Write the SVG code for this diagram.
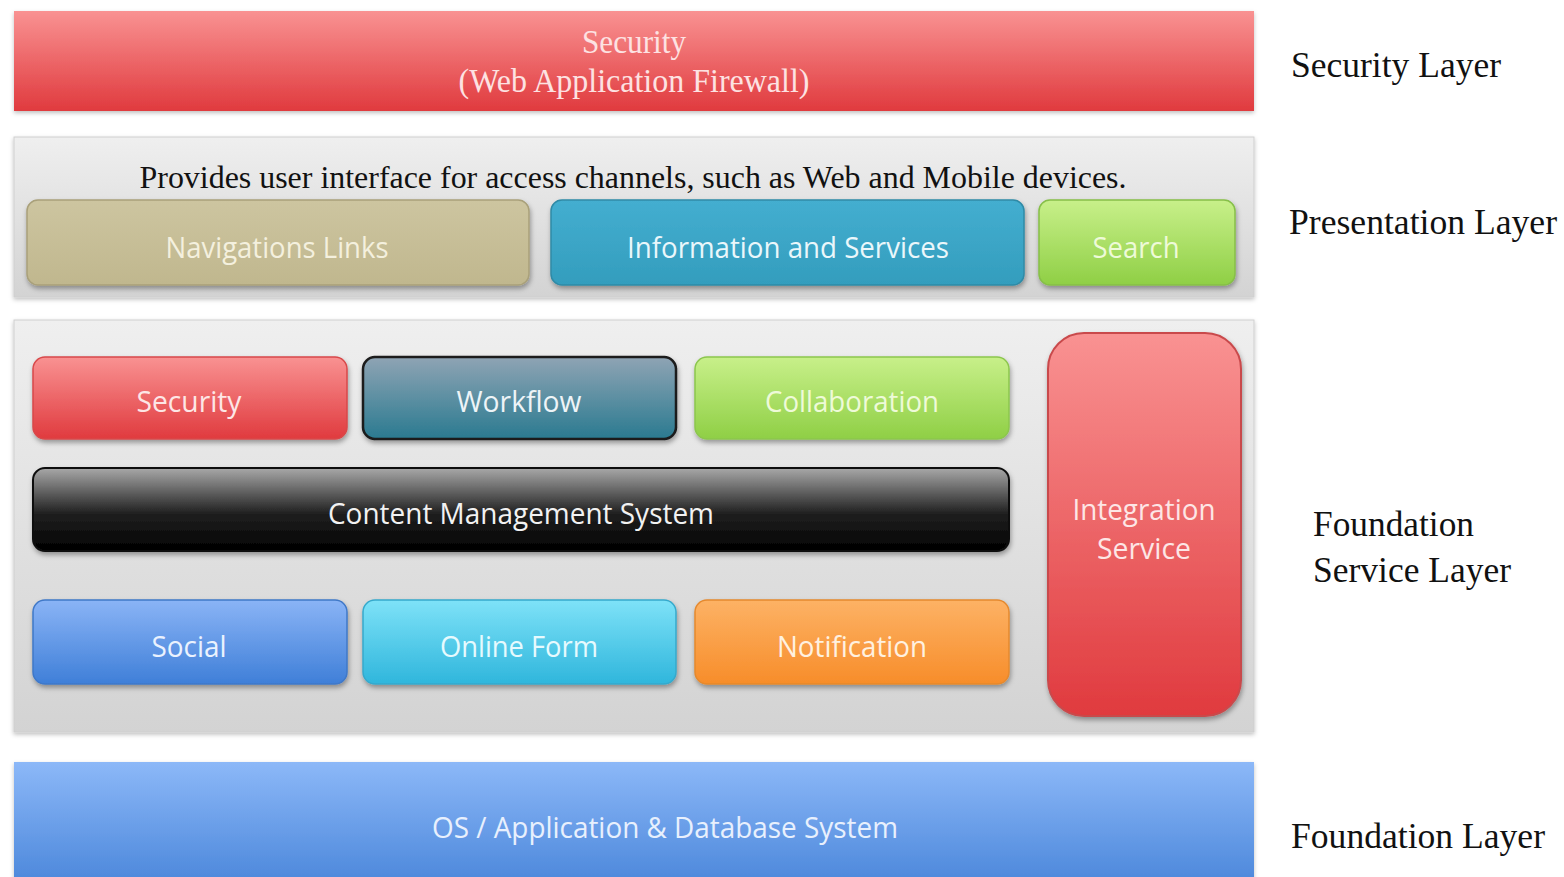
<svg xmlns="http://www.w3.org/2000/svg" width="1564" height="877" viewBox="0 0 1564 877">
<defs>
<linearGradient id="gRed" x1="0" y1="0" x2="0" y2="1"><stop offset="0" stop-color="#f99292"/><stop offset="1" stop-color="#e03a3e"/></linearGradient>
<linearGradient id="gPanel" x1="0" y1="0" x2="0" y2="1"><stop offset="0" stop-color="#efefef"/><stop offset="1" stop-color="#d3d3d3"/></linearGradient>
<linearGradient id="gTan" x1="0" y1="0" x2="0" y2="1"><stop offset="0" stop-color="#cdc5a0"/><stop offset="1" stop-color="#c0b78e"/></linearGradient>
<linearGradient id="gTeal" x1="0" y1="0" x2="0" y2="1"><stop offset="0" stop-color="#44aed0"/><stop offset="1" stop-color="#339dbd"/></linearGradient>
<linearGradient id="gGreen" x1="0" y1="0" x2="0" y2="1"><stop offset="0" stop-color="#c8f08a"/><stop offset="1" stop-color="#8fcf45"/></linearGradient>
<linearGradient id="gSlate" x1="0" y1="0" x2="0" y2="1"><stop offset="0" stop-color="#8fa4b4"/><stop offset="1" stop-color="#2a7a90"/></linearGradient>
<linearGradient id="gBlack" x1="0" y1="0" x2="0" y2="1"><stop offset="0" stop-color="#a8a8a8"/><stop offset="0.55" stop-color="#202020"/><stop offset="1" stop-color="#000000"/></linearGradient>
<linearGradient id="gBlue" x1="0" y1="0" x2="0" y2="1"><stop offset="0" stop-color="#8ab4f6"/><stop offset="1" stop-color="#3f7fd8"/></linearGradient>
<linearGradient id="gCyan" x1="0" y1="0" x2="0" y2="1"><stop offset="0" stop-color="#7ee2f8"/><stop offset="1" stop-color="#2fb6dc"/></linearGradient>
<linearGradient id="gOrange" x1="0" y1="0" x2="0" y2="1"><stop offset="0" stop-color="#fdb265"/><stop offset="1" stop-color="#f78d2a"/></linearGradient>
<linearGradient id="gFound" x1="0" y1="0" x2="0" y2="1"><stop offset="0" stop-color="#8cb8f8"/><stop offset="1" stop-color="#4a86da"/></linearGradient>
<filter id="sh" x="-5%" y="-10%" width="110%" height="130%"><feDropShadow dx="1" dy="3" stdDeviation="2.5" flood-color="#000" flood-opacity="0.35"/></filter>
<filter id="shp" x="-2%" y="-5%" width="104%" height="115%"><feDropShadow dx="0" dy="2" stdDeviation="2" flood-color="#000" flood-opacity="0.25"/></filter>
</defs>
<style>
.serif{font-family:"Liberation Serif","Times New Roman",serif}
.lbl{font-family:"Liberation Serif","Times New Roman",serif;font-size:36px;fill:#111}
.box{font-family:"Open Sans","Liberation Sans",sans-serif;font-size:30px;text-anchor:middle}
</style>
<rect width="1564" height="877" fill="#ffffff"/>

<g id="security-layer">
<rect x="14" y="11" width="1240" height="100" fill="url(#gRed)" filter="url(#shp)"/>
<text class="serif" x="634" y="53" font-size="33" text-anchor="middle" fill="#fde2e2" textLength="104" lengthAdjust="spacingAndGlyphs">Security</text>
<text class="serif" x="634" y="92" font-size="33" text-anchor="middle" fill="#fde2e2" textLength="351" lengthAdjust="spacingAndGlyphs">(Web Application Firewall)</text>
</g>

<g id="presentation-layer">
<rect x="14" y="137" width="1240" height="160" fill="url(#gPanel)" stroke="#cfcfcf" filter="url(#shp)"/>
<text class="serif" x="633" y="188" font-size="32" text-anchor="middle" fill="#111" textLength="987" lengthAdjust="spacingAndGlyphs">Provides user interface for access channels, such as Web and Mobile devices.</text>
</g>
<g id="navigations-links">
<rect x="27" y="200" width="502" height="85" rx="11" fill="url(#gTan)" stroke="#a9a07a" stroke-width="1.5" filter="url(#sh)"/>
<text class="box" x="277" y="258" fill="#f4f0de" textLength="223" lengthAdjust="spacingAndGlyphs">Navigations Links</text>
</g>
<g id="information-services">
<rect x="551" y="200" width="473" height="85" rx="11" fill="url(#gTeal)" stroke="#2f8aa6" stroke-width="1.5" filter="url(#sh)"/>
<text class="box" x="788" y="258" fill="#eaf7fb" textLength="322" lengthAdjust="spacingAndGlyphs">Information and Services</text>
</g>
<g id="search">
<rect x="1039" y="200" width="196" height="85" rx="11" fill="url(#gGreen)" stroke="#86bf48" stroke-width="1.5" filter="url(#sh)"/>
<text class="box" x="1136" y="258" fill="#eefad8" textLength="87" lengthAdjust="spacingAndGlyphs">Search</text>
</g>

<g id="foundation-service-layer">
<rect x="14" y="320" width="1240" height="412" fill="url(#gPanel)" stroke="#cfcfcf" filter="url(#shp)"/>
</g>
<g id="fs-security">
<rect x="33" y="357" width="314" height="82" rx="12" fill="url(#gRed)" stroke="#d8484a" stroke-width="1.5" filter="url(#sh)"/>
<text class="box" x="189" y="412" fill="#fde6e6" textLength="105" lengthAdjust="spacingAndGlyphs">Security</text>
</g>
<g id="workflow">
<rect x="363" y="357" width="313" height="82" rx="12" fill="url(#gSlate)" stroke="#1a1a1a" stroke-width="2.5" filter="url(#sh)"/>
<text class="box" x="519" y="412" fill="#eef4f7" textLength="125" lengthAdjust="spacingAndGlyphs">Workflow</text>
</g>
<g id="collaboration">
<rect x="695" y="357" width="314" height="82" rx="12" fill="url(#gGreen)" stroke="#8cc64e" stroke-width="1.5" filter="url(#sh)"/>
<text class="box" x="852" y="412" fill="#eefad8" textLength="174" lengthAdjust="spacingAndGlyphs">Collaboration</text>
</g>
<g id="cms">
<rect x="33" y="468" width="976" height="83" rx="12" fill="url(#gBlack)" stroke="#111" stroke-width="2" filter="url(#sh)"/>
<text class="box" x="521" y="524" fill="#f2f2f2" textLength="386" lengthAdjust="spacingAndGlyphs">Content Management System</text>
</g>
<g id="social">
<rect x="33" y="600" width="314" height="84" rx="12" fill="url(#gBlue)" stroke="#3f78c8" stroke-width="1.5" filter="url(#sh)"/>
<text class="box" x="189" y="657" fill="#eaf2fe" textLength="75" lengthAdjust="spacingAndGlyphs">Social</text>
</g>
<g id="online-form">
<rect x="363" y="600" width="313" height="84" rx="12" fill="url(#gCyan)" stroke="#36a9cc" stroke-width="1.5" filter="url(#sh)"/>
<text class="box" x="519" y="657" fill="#e6fafe" textLength="158" lengthAdjust="spacingAndGlyphs">Online Form</text>
</g>
<g id="notification">
<rect x="695" y="600" width="314" height="84" rx="12" fill="url(#gOrange)" stroke="#e5892e" stroke-width="1.5" filter="url(#sh)"/>
<text class="box" x="852" y="657" fill="#fff1e0" textLength="150" lengthAdjust="spacingAndGlyphs">Notification</text>
</g>
<g id="integration-service">
<rect x="1048" y="333" width="193" height="383" rx="36" fill="url(#gRed)" stroke="#c94a4c" stroke-width="2" filter="url(#sh)"/>
<text class="box" x="1144" y="520" fill="#fde6e6" textLength="143" lengthAdjust="spacingAndGlyphs">Integration</text>
<text class="box" x="1144" y="559" fill="#fde6e6" textLength="94" lengthAdjust="spacingAndGlyphs">Service</text>
</g>

<g id="foundation-layer">
<rect x="14" y="762" width="1240" height="125" fill="url(#gFound)" filter="url(#shp)"/>
<text class="box" x="665" y="838" fill="#e8f0fd" textLength="466" lengthAdjust="spacingAndGlyphs">OS / Application &amp; Database System</text>
</g>

<g id="layer-labels">
<text class="lbl" x="1291" y="77" textLength="210" lengthAdjust="spacingAndGlyphs">Security Layer</text>
<text class="lbl" x="1289" y="234" textLength="268" lengthAdjust="spacingAndGlyphs">Presentation Layer</text>
<text class="lbl" x="1313" y="536" textLength="161" lengthAdjust="spacingAndGlyphs">Foundation</text>
<text class="lbl" x="1313" y="582" textLength="198" lengthAdjust="spacingAndGlyphs">Service Layer</text>
<text class="lbl" x="1291" y="848" textLength="254" lengthAdjust="spacingAndGlyphs">Foundation Layer</text>
</g>
<g id="connectors"/>
</svg>
